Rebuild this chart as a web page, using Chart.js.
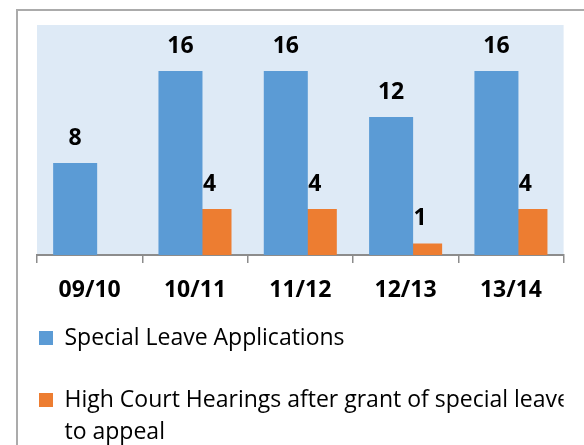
<!DOCTYPE html>
<html>
<head>
<meta charset="utf-8">
<script src="https://cdn.jsdelivr.net/npm/chart.js@4/dist/chart.umd.min.js"></script>
<style>
  html, body { margin: 0; padding: 0; background: #ffffff; overflow: hidden; }
  #frame { position: absolute; left: 16px; top: 9px; width: 700px; height: 600px; border: 2px solid #ababab; box-sizing: border-box; }
  #c { position: absolute; left: 0; top: 0; }
</style>
</head>
<body>
<div id="frame"></div>
<canvas id="c" width="584" height="445"></canvas>
<script>
// ---- data ----
const categories = ["09/10", "10/11", "11/12", "12/13", "13/14"];
const specialLeaveApplications = [8, 16, 16, 12, 16];
const highCourtHearings = [null, 4, 4, 1, 4];
const seriesLabels = [
  "Special Leave Applications",
  ["High Court Hearings after grant of special leave", "to appeal"]
];
const seriesColors = ["#5B9BD5", "#ED7D31"];

const FONT = "'Open Sans', 'Liberation Sans', sans-serif";

const plotBackground = {
  id: 'plotBackground',
  beforeDraw(chart) {
    const {ctx, chartArea} = chart;
    ctx.save();
    ctx.fillStyle = '#DEEAF6';
    ctx.fillRect(chartArea.left, chartArea.top, chartArea.right - chartArea.left, chartArea.bottom - chartArea.top);
    ctx.restore();
  }
};

// let the wrapped second legend line be drawn below the legend's computed box
const legendRoom = {
  id: 'legendRoom',
  afterLayout(chart) {
    const lg = chart.legend;
    if (lg) {
      lg.bottom = chart.height;
      lg.height = lg.bottom - lg.top;
    }
  }
};

const valueLabels = {
  id: 'valueLabels',
  afterDatasetsDraw(chart) {
    const {ctx} = chart;
    ctx.save();
    ctx.font = "bold 23px " + FONT;
    ctx.fillStyle = '#000000';
    ctx.textAlign = 'center';
    ctx.textBaseline = 'alphabetic';
    chart.data.datasets.forEach((ds, i) => {
      const meta = chart.getDatasetMeta(i);
      meta.data.forEach((bar, j) => {
        const v = ds.data[j];
        if (v === null || v === undefined) return;
        ctx.fillText(String(v), bar.x, bar.y - 18.5);
      });
    });
    ctx.restore();
  }
};

new Chart(document.getElementById('c'), {
  type: 'bar',
  data: {
    labels: categories,
    datasets: [
      { label: seriesLabels[0], data: specialLeaveApplications, backgroundColor: seriesColors[0] },
      { label: seriesLabels[1], data: highCourtHearings, backgroundColor: seriesColors[1] }
    ]
  },
  options: {
    responsive: false,
    animation: false,
    devicePixelRatio: 1,
    categoryPercentage: 0.551,
    barPercentage: 1.517,
    layout: { padding: { left: 0, right: 20.4, top: 25, bottom: 23.5 } },
    scales: {
      x: {
        grid: { display: true, drawOnChartArea: false, drawTicks: true, tickLength: 8, color: '#8c8c8c', lineWidth: 1.5, offset: true },
        border: { display: true, color: '#8c8c8c', width: 2 },
        ticks: { color: '#000000', mirror: true, padding: -49, font: { family: FONT, size: 23, weight: 'bold' } },
        afterFit(scale) { scale.height = 32.5; }
      },
      y: {
        min: 0,
        max: 20,
        display: true,
        grid: { display: false },
        border: { display: false },
        ticks: { display: false },
        afterFit(scale) { scale.width = 37; }
      }
    },
    plugins: {
      tooltip: { enabled: false },
      legend: {
        position: 'bottom',
        align: 'start',
        labels: {
          boxWidth: 14,
          boxHeight: 14,
          padding: 39,
          color: '#000000',
          font: { family: FONT, size: 23, lineHeight: 1.39 }
        }
      }
    }
  },
  plugins: [plotBackground, legendRoom, valueLabels]
});
</script>
</body>
</html>
